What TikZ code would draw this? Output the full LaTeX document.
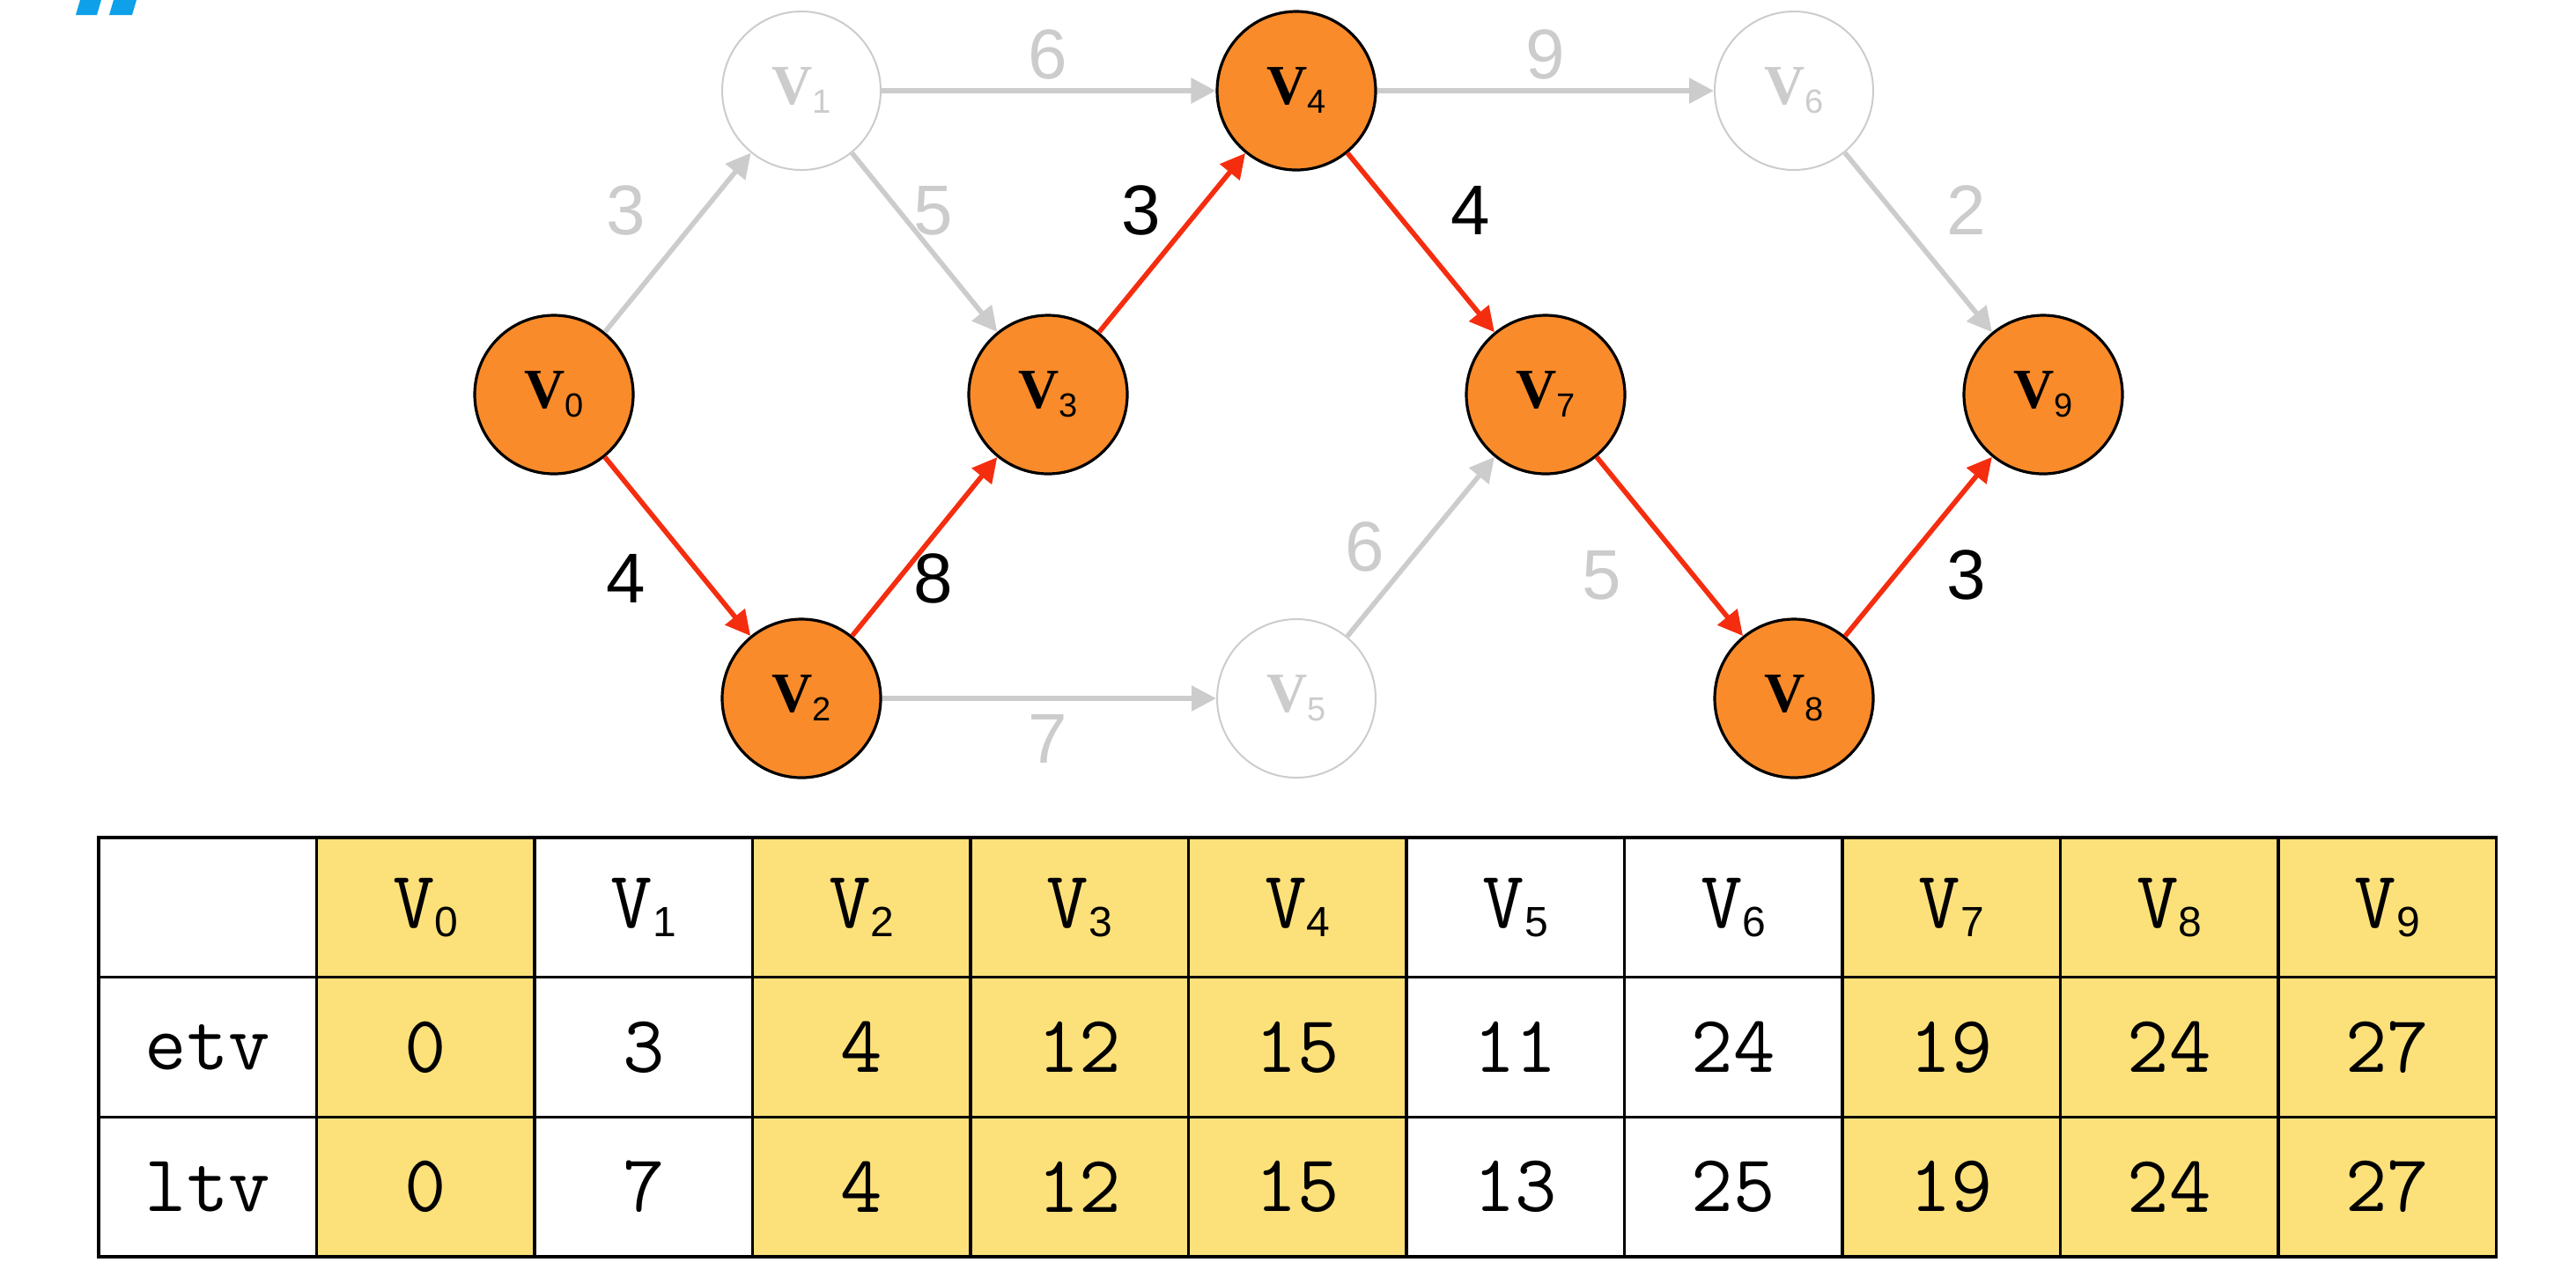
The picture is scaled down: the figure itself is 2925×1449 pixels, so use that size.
\documentclass[tikz,border=0pt]{standalone}
\usepackage{fontspec}
\setmainfont{Liberation Sans}
\newfontfamily\heavyserif{Liberation Serif}
\usepackage{tikz}
\usetikzlibrary{arrows.meta}
\definecolor{vorange}{RGB}{249,139,42}
\definecolor{ered}{RGB}{245,45,15}
\definecolor{egrey}{RGB}{204,204,204}
\definecolor{tyellow}{RGB}{252,225,122}
\definecolor{tblue}{RGB}{14,160,232}
\tikzset{every picture/.style={line width=0.75pt}}
\tikzset{
  vtx/.style={circle, draw=black, line width=0.8pt, fill=vorange, minimum size=45pt, inner sep=0pt},
  vidle/.style={circle, draw=egrey, line width=0.5pt, fill=white, text=egrey, minimum size=45pt, inner sep=0pt},
  crit/.style={draw=ered, line width=1.4pt, -{Triangle[length=7pt,width=7pt]}},
  idle/.style={draw=egrey, line width=1.4pt, -{Triangle[length=7pt,width=7pt]}},
  wlbl/.style={font=\fontsize{20}{20}\selectfont, text=black},
  glbl/.style={font=\fontsize{20}{20}\selectfont, text=egrey},
  cell/.style={draw=black, line width=0.9pt, minimum width=61.875pt, minimum height=39.67pt, inner sep=0pt, outer sep=0pt, font=\ttfamily\fontsize{23}{23}\selectfont}
}
\newcommand{\nodev}[1]{{\heavyserif\bfseries\fontsize{16}{16}\selectfont V}\raisebox{-2.5pt}{\fontsize{9.5}{9.5}\selectfont #1}}
\newcommand{\tabv}[1]{V\raisebox{-2.5pt}{\rmfamily\fontsize{12}{12}\selectfont #1}}

\begin{document}
\begin{tikzpicture}[x=0.25pt,y=0.25pt,yscale=-1,xscale=1]
		\useasboundingbox (0,0) rectangle (2925,1449);
		
		%Shape: clipped title marks
		\fill[tblue] (86,17) -- (110,17) -- (115,0) -- (91,0) -- cycle;
		\fill[tblue] (124,17) -- (150,17) -- (155,0) -- (129,0) -- cycle;
		
		%Shape: Circle (vertices)
		\node[vtx] (v0) at (629,448) {\nodev{0}};
		\node[vidle] (v1) at (910,103) {\nodev{1}};
		\node[vtx] (v2) at (910,793) {\nodev{2}};
		\node[vtx] (v3) at (1190,448) {\nodev{3}};
		\node[vtx] (v4) at (1472,103) {\nodev{4}};
		\node[vidle] (v5) at (1472,793) {\nodev{5}};
		\node[vidle] (v6) at (2037,103) {\nodev{6}};
		\node[vtx] (v7) at (1755,448) {\nodev{7}};
		\node[vtx] (v8) at (2037,793) {\nodev{8}};
		\node[vtx] (v9) at (2320,448) {\nodev{9}};
		
		%Straight Lines (grey activities)
		\draw[idle] (v0) -- (v1);
		\draw[idle] (v1) -- (v3);
		\draw[idle] (v1) -- (v4);
		\draw[idle] (v4) -- (v6);
		\draw[idle] (v6) -- (v9);
		\draw[idle] (v2) -- (v5);
		\draw[idle] (v5) -- (v7);
		
		%Straight Lines (critical path)
		\draw[crit] (v0) -- (v2);
		\draw[crit] (v2) -- (v3);
		\draw[crit] (v3) -- (v4);
		\draw[crit] (v4) -- (v7);
		\draw[crit] (v7) -- (v8);
		\draw[crit] (v8) -- (v9);
		
		% Text Node
		\node[glbl] (w01) at (711,239) {3};
		\node[glbl] (w13) at (1060,239) {5};
		\node[glbl] (w14) at (1190,62) {6};
		\node[glbl] (w46) at (1755,62) {9};
		\node[glbl] (w69) at (2233,239) {2};
		\node[glbl] (w25) at (1190,839) {7};
		\node[glbl] (w57) at (1550,621) {6};
		\node[glbl] (w78) at (1819,653) {5};
		% Text Node
		\node[wlbl] (w02) at (711,657) {4};
		\node[wlbl] (w23) at (1060,657) {8};
		\node[wlbl] (w34) at (1296,239) {3};
		\node[wlbl] (w47) at (1670,239) {4};
		\node[wlbl] (w89) at (2233,653) {3};
		
		%Table
		\node[cell] (hdx) at (235.75,1030.3) {};
		\node[cell] (etvhd) at (235.75,1189) {etv};
		\node[cell] (ltvhd) at (235.75,1347.7) {ltv};
		\foreach \vid/\et/\lt/\bg [count=\i] in {0/0/0/tyellow,1/3/7/white,2/4/4/tyellow,3/12/12/tyellow,4/15/15/tyellow,5/11/13/white,6/24/25/white,7/19/19/tyellow,8/24/24/tyellow,9/27/27/tyellow}{
			\node[cell, fill=\bg] (hd\vid) at ({112+247.5*(\i+0.5)},1030.3) {\tabv{\vid}};
			\node[cell, fill=\bg] (etv\vid) at ({112+247.5*(\i+0.5)},1189) {\et};
			\node[cell, fill=\bg] (ltv\vid) at ({112+247.5*(\i+0.5)},1347.7) {\lt};
		}
		
\end{tikzpicture}
\end{document}
